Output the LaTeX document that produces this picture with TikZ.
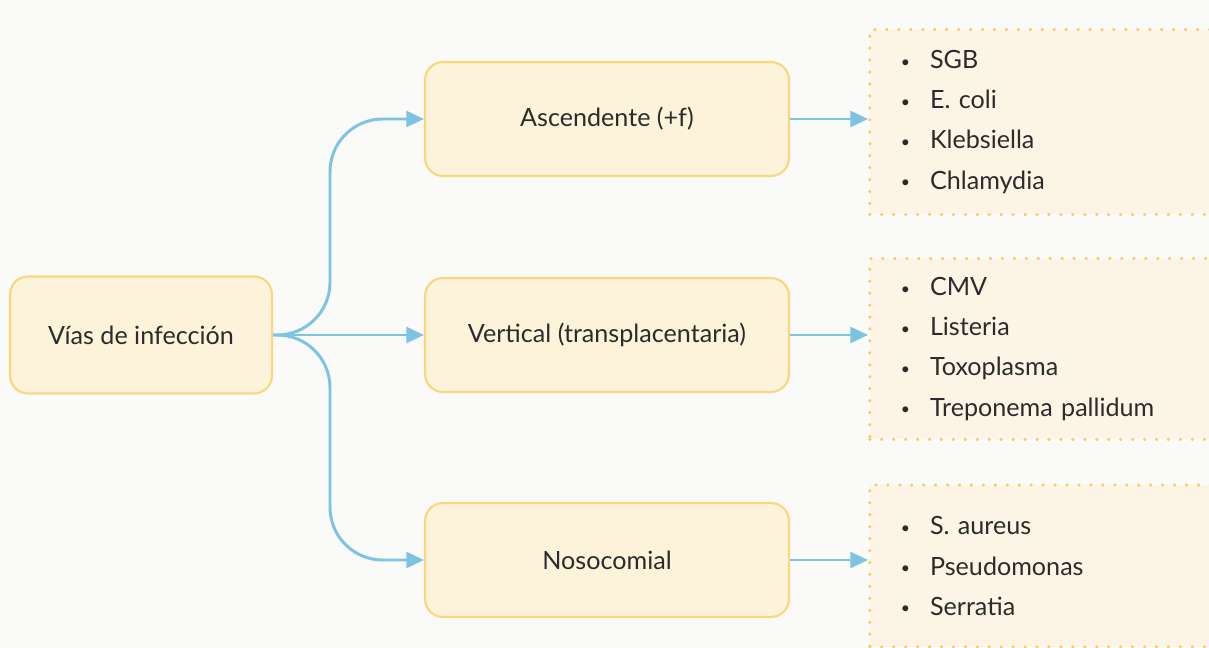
\documentclass[tikz,border=0pt]{standalone}
\usepackage{fontspec}
\setmainfont{Lato}
\usetikzlibrary{arrows.meta}
\definecolor{bg}{HTML}{FAFAF9}
\definecolor{boxfill}{HTML}{FDF3DA}
\definecolor{boxline}{HTML}{F9D77E}
\definecolor{listfill}{HTML}{FCF5E6}
\definecolor{dotc}{HTML}{F6CF5E}
\definecolor{arrc}{HTML}{7CC4E2}
\definecolor{txt}{HTML}{2B2B2B}
\newcommand{\itm}[1]{\raisebox{0.07em}{\small\textbullet}\hspace{0.8em}#1}

\begin{document}
\begin{tikzpicture}
  [x=0.02cm,y=-0.02cm,
   box/.style={draw=boxline,fill=boxfill,line width=1.2pt,rounded corners=0.36cm,
     minimum height=2.28cm,font=\fontsize{14.3}{17}\selectfont,text=txt},
   lst/.style={draw=dotc,fill=listfill,line width=2pt,dash pattern=on 0pt off 6.8pt,
     line cap=round,anchor=west,inner xsep=0.62cm,text width=7cm,align=left,
     font=\fontsize{14.3}{22.8}\selectfont,text=txt},
   arr/.style={draw=arrc,line width=1.7pt,-{Triangle[length=10pt,width=9pt]}}]
  \fill[bg] (0,0) rectangle (1209,648);
  \useasboundingbox (0,0) rectangle (1209,648);
  \clip (0,0) rectangle (1209,648);

  \node[box,minimum width=5.24cm,minimum height=2.34cm] (vias) at (141,335) {Vías de infección};
  \node[box,minimum width=7.28cm] (asc)  at (607,119) {Ascendente (+f)};
  \node[box,minimum width=7.28cm] (vert) at (607,335) {Vertical (transplacentaria)};
  \node[box,minimum width=7.28cm] (noso) at (607,560) {Nosocomial};

  \node[lst,minimum height=3.7cm]  (l1) at (868,122) {\itm{SGB}\\\itm{E. coli}\\\itm{Klebsiella}\\\itm{Chlamydia}};
  \node[lst,minimum height=3.62cm] (l2) at (868,349) {\itm{CMV}\\\itm{Listeria}\\\itm{Toxoplasma}\\\itm{Treponema pallidum}};
  \node[lst,minimum height=3.24cm] (l3) at (868,566) {\itm{S. aureus}\\\itm{Pseudomonas}\\\itm{Serratia}};

  \coordinate (split) at (330,335);
  \draw[arr,rounded corners=30pt] (vias.east) -| (split |- asc.west) -- (asc.west);
  \draw[arr] (vias.east) -- (vert.west);
  \draw[arr,rounded corners=30pt] (vias.east) -| (split |- noso.west) -- (noso.west);

  \foreach \from/\to in {asc/l1,vert/l2,noso/l3}
    \draw[arr] (\from.east) -- (\from.east -| \to.west);
\end{tikzpicture}
\end{document}
